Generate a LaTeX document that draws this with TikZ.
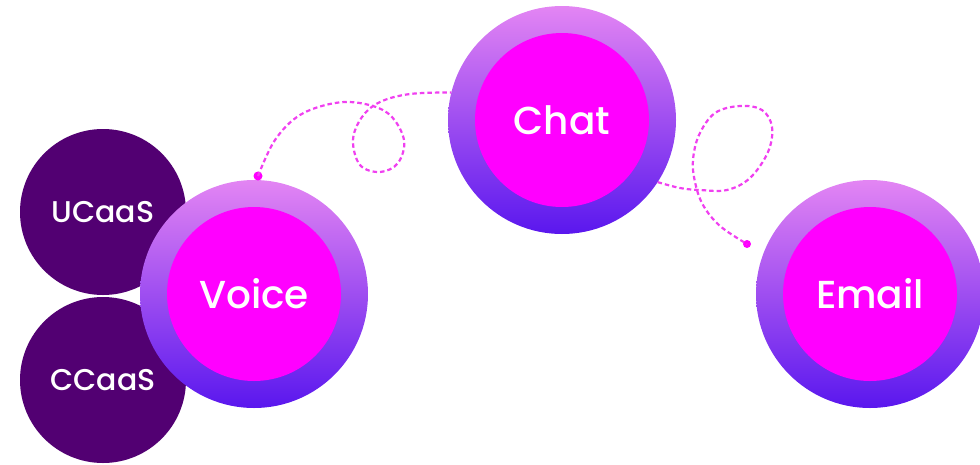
\documentclass[tikz,border=0pt]{standalone}
\usepackage{fontspec}
\setmainfont{Poppins}[UprightFont=* Medium]
\definecolor{ringtop}{HTML}{E385F3}
\definecolor{ringbot}{HTML}{5A17EE}
\definecolor{core}{HTML}{FF00FF}
\definecolor{deep}{HTML}{520072}
\definecolor{trail}{HTML}{F040F0}
\tikzset{
  ring/.style={circle, inner sep=0pt, outer sep=0pt, minimum size=228pt,
    top color=ringtop, bottom color=ringbot, draw=none},
  core/.style={circle, inner sep=0pt, outer sep=0pt, minimum size=174pt,
    fill=core, text=white, font=\fontsize{39}{39}\selectfont},
  side/.style={circle, inner sep=0pt, outer sep=0pt, minimum size=166pt,
    fill=deep, text=white, font=\fontsize{30}{30}\selectfont},
  trailline/.style={trail, line width=2.2pt, dash pattern=on 4.5pt off 3pt},
  dotend/.style={circle, fill=core, inner sep=0pt, minimum size=9pt}
}
\begin{document}
\begin{tikzpicture}[x=1pt, y=-1pt]
\useasboundingbox (0,0) rectangle (980,464);

% side services behind the voice ring
\node[side] (ucaas) at (103,212) {UCaaS};
\node[side] (ccaas) at (103,380) {CCaaS};

% channel rings
\node[ring] (voicering) at (254,294) {};
\node[core] (voice) at (254,294) {Voice};
\node[ring] (chatring) at (562,120) {};
\node[core] (chat) at (562,120) {Chat};
\node[ring] (emailring) at (870,294) {};
\node[core] (email) at (870,294) {Email};

% looping dotted trails between the channels
\node[dotend] (startdot) at (258,176) {};
\node[dotend, minimum size=8pt] (enddot) at (747,244) {};

\draw[trailline] plot[smooth, tension=0.6] coordinates {
  (startdot) (275,140) (300,115) (335,103) (365,104) (390,115) (404,140)
  (398,163) (380,172) (360,165) (353,140) (362,117) (380,102) (410,94)
  (chatring.166)};

\draw[trailline] plot[smooth, tension=0.6] coordinates {
  (chatring.-33) (680,188) (700,190) (727,190) (750,178) (768,152)
  (772,127) (762,110) (740,106) (715,113) (699,135) (693,160) (695,182)
  (703,205) (720,226) (enddot)};
\end{tikzpicture}
\end{document}
